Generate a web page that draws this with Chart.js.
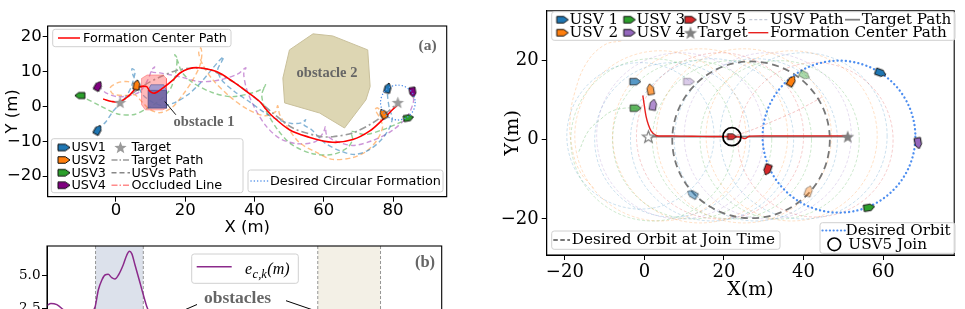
<!DOCTYPE html>
<html>
<head>
<meta charset="utf-8">
<title>USV formation trajectories</title>
<script src="https://cdn.jsdelivr.net/npm/chart.js@4.4.1/dist/chart.umd.min.js"></script>
<style>
  html, body { margin:0; padding:0; background:#fff; }
  #wrap { position:relative; width:965px; height:309px; overflow:hidden; background:#fff; }
  #wrap canvas { position:absolute; }
</style>
</head>
<body>
<div id="wrap">
  <canvas id="chartA" width="460" height="240" style="left:0px;top:0px;width:460px;height:240px"></canvas>
  <canvas id="chartB" width="460" height="120" style="left:0px;top:240px;width:460px;height:120px"></canvas>
  <canvas id="chartC" width="495" height="309" style="left:470px;top:0px;width:495px;height:309px"></canvas>
</div>
<script>
// ======================= DATA =======================
// ---- Panel (a) : trajectories around obstacles (X, Y in m) ----
const aXTicks = [0, 20, 40, 60, 80];
const aYTicks = [-20, -10, 0, 10, 20];
const aFormationCenterPath = [[-3.7,2.1],[-1.2,1.4],[1.2,1.4],[4.0,3.3],[6.0,5.3],[8.8,5.7],[9.8,4.3],[11.2,3.8],[13.6,5.3],[16.5,7.6],[18.4,9.5],[20.8,10.7],[23.7,11.1],[29.0,10.0],[33.8,7.1],[37.7,4.3],[41.5,1.4],[43.4,-0.9],[45.3,-2.9],[50.1,-6.7],[55.0,-8.6],[62.6,-10.3],[68.4,-9.5],[73.2,-7.1],[77.0,-3.8],[79.9,-0.9],[81.4,0.5]];
const aTargetPath = [[1.2,1.1],[8.4,6.2],[12.7,8.4],[17.5,10.3],[22.3,11.0],[27.1,10.5],[33.8,7.1],[39.6,2.9],[45.3,-1.9],[51.1,-6.2],[58.8,-8.6],[62.6,-8.7],[68.4,-7.6],[74.2,-4.7],[78.0,-1.9],[81.4,1.0]];
const aUsv1Path = [[-5.2,-6.7],[-2.9,-4.4],[-0.9,-1.5],[1.2,0.8],[2.9,2.8],[4.3,5.3],[5.2,8.2],[5.5,10.2],[4.6,10.8],[4.9,9.1],[6.1,6.5],[7.8,3.3],[10.4,1.3],[13.5,0.2],[17.0,1.1],[20.7,3.3],[24.2,6.5],[27.1,9.9],[30.0,13.3],[31.1,14.2],[30.5,12.8],[29.4,10.5],[30.5,7.6],[34.3,4.2],[38.6,1.3],[42.9,-1.8],[46.7,-3.8],[50.7,-4.9],[53.6,-4.7],[54.8,-3.8],[54.2,-5.2],[56.5,-6.7],[60.2,-10.4],[64.6,-12.7],[68.9,-13.8],[73.2,-12.4],[76.7,-9.5],[79.0,-6.1],[79.8,-3.2],[79.0,-0.9],[78.4,3.3],[78.5,5.3]];
const aUsv2Path = [[6.0,6.2],[3.5,7.1],[0.6,6.8],[-1.7,5.3],[-0.9,3.6],[2.3,3.1],[5.5,3.3],[7.5,1.3],[9.8,-0.9],[12.7,-1.8],[16.1,-0.4],[19.3,3.3],[22.2,7.6],[24.2,11.6],[24.8,14.8],[24.5,16.8],[23.9,15.3],[25.1,11.9],[28.0,7.6],[32.9,2.8],[37.8,-0.7],[43.0,-2.7],[46.1,-1.5],[46.7,0.2],[47.3,-2.4],[49.6,-6.1],[53.0,-10.4],[57.9,-13.2],[62.5,-15.2],[68.3,-14.7],[72.3,-12.9],[75.5,-9.5],[77.0,-5.8],[76.1,-3.2],[74.9,-0.9],[75.5,-0.4],[77.2,-2.1]];
const aUsv3Path = [[-10.4,3.1],[-4.6,0.2],[0.3,-2.1],[4.9,-2.4],[8.4,-0.9],[11.8,1.1],[15.6,4.8],[17.3,9.9],[17.6,13.9],[17.0,14.8],[17.9,12.8],[19.0,9.9],[22.2,6.8],[28.0,3.9],[33.7,2.8],[39.5,3.9],[42.7,5.3],[43.2,6.2],[42.1,3.3],[43.2,-0.9],[46.7,-6.7],[50.7,-10.9],[56.5,-13.5],[62.5,-13.8],[66.9,-11.8],[68.3,-9.5],[68.0,-7.2],[71.8,-8.1],[77.0,-6.7],[81.8,-4.7],[84.5,-3.3]];
const aUsv4Path = [[-5.1,5.9],[-2.9,3.9],[0.3,2.8],[4.0,3.1],[6.9,4.2],[9.2,7.6],[10.4,10.5],[11.2,11.3],[10.4,9.9],[12.7,9.6],[18.4,8.5],[24.2,7.1],[30.0,7.6],[35.2,9.3],[37.5,11.1],[36.9,9.3],[37.8,4.8],[40.3,-0.9],[43.5,-5.8],[47.3,-9.2],[52.4,-10.7],[57.6,-10.1],[59.9,-7.5],[60.5,-5.8],[60.8,-8.1],[63.1,-9.8],[68.3,-11.2],[74.1,-9.8],[79.8,-6.9],[84.1,-2.9],[85.9,1.3],[85.7,4.0]];
const aUsvStart = [[-5.2,-6.7],[6.0,6.2],[-10.4,3.1],[-5.1,5.9]];     // USV1..USV4
const aUsvEnd   = [[78.5,5.3],[77.2,-2.1],[84.5,-3.3],[85.7,4.0]];
const aUsvStartHeading = [60, 80, 180, 60];                           // degrees
const aUsvEndHeading   = [75, 120, 10, -80];
const aTargetMarks = [[1.2,1.1],[81.4,1.1]];
const aFormationCircle = [81.4, 1.1, 5];                              // centre x, centre y, radius
const aObstacle2 = [[50.1,16.2],[56.9,20.8],[62.6,20.2],[72.7,16.2],[73.4,5.7],[72.2,1.9],[66.0,-6.2],[58.8,-1.9],[48.7,1.0],[48.2,8.1]];
const aObstacle1Occluded = [[7.4,8.0],[9.0,9.0],[13.6,9.0],[14.6,8.0],[14.6,-0.5],[13.5,-1.0],[8.5,-1.0],[7.4,0.5]];
const aObstacle1Front = [[9.3,4.6],[14.6,4.6],[14.6,-0.5],[9.3,-0.5]];
const aObstacle1Top = [[9.3,4.6],[14.6,4.6],[13.8,6.2],[10.1,6.2]];

// ---- Panel (b) : formation error e_{c,k} ----
const bYTicks = [0, 2.5, 5.0];
const bTime  = [0, 1, 2.5, 4, 5, 7, 9.6, 11.1, 12.2, 13.0, 13.9, 14.7, 15.5, 16.4, 17.2, 18.1, 19.3, 20.2, 20.9, 21.5, 22.3, 23.6, 24.4, 25.3, 26.6, 30, 35, 40, 50, 60, 68, 75, 82, 90, 100];
const bError = [2.7, 2.85, 2.75, 2.4, 2.1, 1.6, 1.7, 2.1, 2.6, 3.86, 4.62, 5.0, 5.05, 4.8, 4.7, 5.0, 5.76, 6.5, 6.8, 6.6, 5.76, 4.37, 3.5, 2.6, 1.8, 1.2, 0.9, 0.8, 0.7, 0.9, 1.4, 1.8, 1.3, 0.9, 0.8];
const bObstacleSpans = [[12.3, 24.4], [68.6, 84.5]];

// ---- Right panel : USV5 joining the circular formation ----
const cXTicks = [-20, 0, 20, 40, 60];
const cYTicks = [-20, 0, 20];
const cFormationCenterPath = [[-0.4,11.2],[0.0,8.5],[0.4,6.0],[1.0,3.8],[1.7,2.2],[2.9,1.1],[5.0,0.95],[7.1,1.0],[12.0,0.9],[17.0,0.85],[22.0,0.8],[24.0,0.7],[25.3,0.3],[26.3,0.9],[30.0,1.0],[40.0,1.0],[51.1,1.0]];
const cTargetPath = [[1.0,0.8],[51.1,0.8]];
const cTargetStart = [1.0, 0.8];
const cTargetEnd = [51.1, 0.8];
const cJoinPoint = [22.0, 0.8];
const cJoinOrbit = [26.8, 0.0, 19.8];      // centre x, centre y, radius
const cDesiredOrbit = [48.9, 0.8, 19.2];
const cUsvOrbitCircles = [[-1,1,18.5],[2,0,20.5],[4,1,21.5],[7,0,19.5],[9,1,21],[12,0,20],[14,1,22],[17,0,20.5],[19,1,21],[22,0,20],[25,1,22],[28,0,20.5],[31,1,21],[34,0,20],[37,1,21.5],[40,1,21],[43,0,19.5]];
const cUsvOrbitOwner = [1,3,2,1,4,3,2,1,5,3,2,1,4,3,2,1,5];
const cUsv5Path = [[22.0,0.8],[27,2.5],[33,5.0],[38,7.2],[42,9.3],[45,11.0]];
const cApproachArc = [[-5.8,25],[-10,24],[-14.5,19.5],[-17.5,12],[-18.7,5],[-18.2,-2],[-16.2,-8],[-12.5,-12.5]];
const cApproachGreen = [[-16.5,-3],[-14.1,2.2],[-11,5.2],[-8.3,7.2],[-5,8.0],[-2.2,8.0]];
const cUsvMarkers = [[-2.3,14.7],[1.5,12.8],[-2.2,8.0],[2.2,8.9],[11.2,14.7],[37.0,14.9],[40.3,16.3],[59.4,16.9],[68.8,-0.9],[30.9,-7.6],[41.3,-12.9],[12.0,-13.7],[56.5,-17.1],[22.0,0.8]];
const cUsvHeadings = [0,100,0,80,0,60,-30,-20,-80,-110,70,150,10,0];
const cUsvOwner = [1,2,3,4,4,2,3,1,4,5,2,1,3,5];

// ======================= STYLE =======================
const palette = {1:'#1f77b4', 2:'#ff7f0e', 3:'#2ca02c', 4:'#9467bd', 5:'#d62728'};
const cUsvAlpha = [0.75,0.75,0.75,0.75,0.35,1,0.4,1,1,1,0.4,0.5,1,0.9];
const aUsvColors = ['#1f77b4','#ff7f0e','#2ca02c','#800080'];
const aPathColors = ['rgba(31,119,180,0.55)','rgba(255,127,14,0.5)','rgba(44,160,44,0.5)','rgba(170,80,190,0.6)'];
const SANS = '"DejaVu Sans", sans-serif';
const SERIF = '"DejaVu Serif", serif';
const TIMES = '"Liberation Serif", serif';

// font size that makes a sample string span a given width
function fitSize(sample, family, targetWidth) {
  const g = document.createElement('canvas').getContext('2d');
  g.font = '100px ' + family;
  return 100 * targetWidth / g.measureText(sample).width;
}
const A_LEG_SIZE = fitSize('Formation Center Path', SANS, 144);
const C_LEG_SIZE = fitSize('Formation Center Path', SERIF, 176.7);

function rgba(hex, a) {
  const n = parseInt(hex.slice(1), 16);
  return 'rgba(' + ((n >> 16) & 255) + ',' + ((n >> 8) & 255) + ',' + (n & 255) + ',' + a + ')';
}
function boatImg(color, alpha, L, W) {
  const s = Math.ceil(Math.max(L, W)) + 4;
  const c = document.createElement('canvas');
  c.width = s; c.height = s;
  const g = c.getContext('2d');
  g.translate(s / 2, s / 2);
  g.globalAlpha = alpha;
  g.beginPath();
  g.moveTo(-L / 2, -W / 2); g.lineTo(L * 0.12, -W / 2); g.lineTo(L / 2, 0);
  g.lineTo(L * 0.12, W / 2); g.lineTo(-L / 2, W / 2); g.closePath();
  g.fillStyle = color; g.fill();
  g.lineWidth = 1; g.strokeStyle = '#111'; g.stroke();
  return c;
}
function starImg(fill, edge, R, lw) {
  const s = Math.ceil(2 * R) + 4;
  const c = document.createElement('canvas');
  c.width = s; c.height = s;
  const g = c.getContext('2d');
  g.translate(s / 2, s / 2 + R * 0.08);
  g.beginPath();
  for (let i = 0; i < 10; i++) {
    const r = (i % 2) ? R * 0.42 : R;
    const a = -Math.PI / 2 + i * Math.PI / 5;
    g.lineTo(r * Math.cos(a), r * Math.sin(a));
  }
  g.closePath();
  g.fillStyle = fill; g.fill();
  if (edge) { g.strokeStyle = edge; g.lineWidth = lw; g.stroke(); }
  return c;
}
const toXY = arr => arr.map(p => ({x: p[0], y: p[1]}));
const closedXY = arr => toXY(arr.concat([arr[0]]));
const fmtTick = v => (v < 0 ? '\u2212' + Math.abs(v) : String(v));

function axis(o) {
  return {
    type: 'linear', min: o.min, max: o.max, display: o.display !== false,
    afterBuildTicks: s => { s.ticks = (o.ticks || []).map(v => ({value: v})); },
    afterFit: s => {
      if (o.w != null) s.width = o.w;
      if (o.h != null) s.height = o.h;
      s.paddingTop = 0; s.paddingBottom = 0; s.paddingLeft = 0; s.paddingRight = 0;
    },
    ticks: { font: o.font, color: '#000', padding: o.pad, callback: o.fmt || fmtTick, autoSkip: false, maxRotation: 0, minRotation: 0 },
    grid: { drawOnChartArea: false, drawTicks: true, tickLength: 5, color: '#000', tickWidth: 1 },
    border: { display: true, color: '#000', width: 1 },
    title: o.title ? { display: true, text: o.title, font: o.titleFont, color: '#000', padding: o.titlePad } : { display: false }
  };
}
function lineDs(points, color, width, dash, order, extra) {
  return Object.assign({ data: toXY(points), showLine: true, borderColor: color, borderWidth: width, borderDash: dash || [], pointRadius: 0, tension: 0.3, fill: false, order: order }, extra || {});
}
function polyDs(points, fillColor, edgeColor, order) {
  return { data: closedXY(points), showLine: true, fill: 'shape', backgroundColor: fillColor, borderColor: edgeColor, borderWidth: 1, pointRadius: 0, tension: 0, order: order };
}
function clipArea(ctx, ca) { ctx.beginPath(); ctx.rect(ca.left, ca.top, ca.right - ca.left, ca.bottom - ca.top); ctx.clip(); }
function drawCircleData(ctx, xs, ys, c, st) {
  const cx = xs.getPixelForValue(c[0]), cy = ys.getPixelForValue(c[1]);
  const rx = Math.abs(xs.getPixelForValue(c[0] + c[2]) - cx), ry = Math.abs(ys.getPixelForValue(c[1] + c[2]) - cy);
  ctx.beginPath(); ctx.ellipse(cx, cy, rx, ry, 0, 0, Math.PI * 2);
  ctx.strokeStyle = st.color; ctx.lineWidth = st.width; ctx.setLineDash(st.dash || []); ctx.lineCap = st.cap || 'butt';
  ctx.stroke();
}
function drawFrame(chart) {
  const {ctx, chartArea: a} = chart;
  ctx.save(); ctx.strokeStyle = '#000'; ctx.lineWidth = 1.1; ctx.setLineDash([]);
  ctx.strokeRect(a.left, a.top, a.right - a.left, a.bottom - a.top); ctx.restore();
}
function legendFrame(ctx, x, y, w, h) {
  ctx.save(); ctx.beginPath();
  if (ctx.roundRect) ctx.roundRect(x, y, w, h, 2.5); else ctx.rect(x, y, w, h);
  ctx.fillStyle = 'rgba(255,255,255,0.82)'; ctx.fill();
  ctx.strokeStyle = '#d0d0d0'; ctx.lineWidth = 1; ctx.setLineDash([]); ctx.stroke(); ctx.restore();
}
function legendLine(ctx, x1, x2, y, color, width, dash, cap) {
  ctx.save(); ctx.beginPath(); ctx.moveTo(x1, y); ctx.lineTo(x2, y);
  ctx.strokeStyle = color; ctx.lineWidth = width; ctx.setLineDash(dash || []); ctx.lineCap = cap || 'butt';
  ctx.stroke(); ctx.restore();
}
function txt(ctx, s, x, y, font, color, align, baseline) {
  ctx.save(); ctx.font = font; ctx.fillStyle = color; ctx.textAlign = align || 'left';
  ctx.textBaseline = baseline || 'middle'; ctx.fillText(s, x, y); ctx.restore();
}
function drawImg(ctx, img, x, y) { ctx.drawImage(img, x - img.width / 2, y - img.height / 2); }

// ======================= PANEL (a) =======================
const aStartBoats = aUsvColors.map(c => boatImg(c, 1, 10, 6));
const aLegendBoats = aUsvColors.map(c => boatImg(c, 1, 12, 6.5));
const aStar = starImg('#9a9a9a', null, 6.5, 0);
const aStarLegend = starImg('#9a9a9a', null, 6.5, 0);
const F13 = A_LEG_SIZE.toFixed(2) + 'px ' + SANS;

const overlayA = {
  id: 'overlayA',
  afterDatasetsDraw(chart) {
    const {ctx, chartArea: ca, scales: {x, y}} = chart;
    ctx.save(); clipArea(ctx, ca);
    drawCircleData(ctx, x, y, aFormationCircle, {color: '#4f8fe8', width: 1.4, dash: [0.1, 3.2], cap: 'round'});
    ctx.restore();
  },
  afterDraw(chart) {
    const {ctx, scales: {x, y}} = chart;
    drawFrame(chart);
    txt(ctx, '(a)', 427.5, 45.5, 'bold 15.5px ' + TIMES, '#666', 'center');
    txt(ctx, 'obstacle 2', 327, 73.5, 'bold 14.5px ' + TIMES, '#666', 'center');
    txt(ctx, 'obstacle 1', 204, 122, 'bold 14.5px ' + TIMES, '#666', 'center');
    ctx.save(); ctx.beginPath();
    ctx.moveTo(x.getPixelForValue(17.3), y.getPixelForValue(-2.4));
    ctx.lineTo(x.getPixelForValue(14.1), y.getPixelForValue(1.4));
    ctx.strokeStyle = '#000'; ctx.lineWidth = 0.9; ctx.stroke(); ctx.restore();
    // legend: formation centre path
    legendFrame(ctx, 52.7, 29.3, 178.3, 17.4);
    legendLine(ctx, 58, 80, 38, '#ff0000', 1.5, []);
    txt(ctx, 'Formation Center Path', 83, 38.5, F13, '#000');
    // legend: USVs / target / paths
    legendFrame(ctx, 51.3, 138.7, 191.7, 54);
    const ry = [147.5, 160, 172.7, 185.2];
    ['USV1', 'USV2', 'USV3', 'USV4'].forEach((s, i) => { drawImg(ctx, aLegendBoats[i], 64, ry[i]); txt(ctx, s, 71.5, ry[i] + 0.5, F13, '#000'); });
    drawImg(ctx, aStarLegend, 120.5, ry[0]);
    txt(ctx, 'Target', 131.5, ry[0] + 0.5, F13, '#000');
    legendLine(ctx, 111.5, 130, ry[1], '#999', 1.5, [6, 2, 1.5, 2]);
    txt(ctx, 'Target Path', 131.5, ry[1] + 0.5, F13, '#000');
    legendLine(ctx, 111.5, 130, ry[2], '#888', 1.5, [5, 3]);
    txt(ctx, 'USVs Path', 131.5, ry[2] + 0.5, F13, '#000');
    legendLine(ctx, 111.5, 130, ry[3], 'rgba(255,100,100,0.75)', 1.5, [6, 2, 1.5, 2]);
    txt(ctx, 'Occluded Line', 131.5, ry[3] + 0.5, F13, '#000');
    // legend: desired formation
    legendFrame(ctx, 248, 170, 195, 22);
    legendLine(ctx, 251, 268, 181, '#4f8fe8', 1.5, [0.1, 3.2], 'round');
    txt(ctx, 'Desired Circular Formation', 270, 181.5, F13, '#000');
  }
};

const aDatasets = [
  { data: toXY(aUsvStart.concat(aUsvEnd)), pointStyle: aStartBoats.concat(aStartBoats), pointRotation: aUsvStartHeading.concat(aUsvEndHeading).map(h => -h), pointRadius: 5, order: 0 },
  { data: toXY(aTargetMarks), pointStyle: aStar, pointRadius: 6, order: 0 },
  lineDs(aFormationCenterPath, '#ff0000', 1.6, [], 1, {tension: 0.35}),
  polyDs(aObstacle1Top, 'rgba(150,150,210,0.85)', 'rgba(90,90,150,0.6)', 2),
  polyDs(aObstacle1Front, 'rgba(95,95,165,0.85)', 'rgba(70,70,130,0.7)', 2),
  polyDs(aObstacle1Occluded, 'rgba(255,90,90,0.42)', 'rgba(255,90,90,0.5)', 3),
  lineDs(aTargetPath, '#9a9a9a', 1.6, [7, 3, 2, 3], 4, {tension: 0.3}),
  lineDs(aUsv1Path, aPathColors[0], 1.4, [5, 3], 5),
  lineDs(aUsv2Path, aPathColors[1], 1.4, [5, 3], 5),
  lineDs(aUsv3Path, aPathColors[2], 1.4, [5, 3], 5),
  lineDs(aUsv4Path, aPathColors[3], 1.4, [5, 3], 5),
  polyDs(aObstacle2, '#ddd6b3', '#c9c09b', 6)
];

new Chart(document.getElementById('chartA'), {
  type: 'scatter',
  data: { datasets: aDatasets },
  options: {
    responsive: false, animation: false, devicePixelRatio: 1, events: [],
    layout: { padding: { left: 0, top: 26, right: 13.3, bottom: 0 } },
    plugins: { legend: { display: false }, tooltip: { enabled: false } },
    scales: {
      x: axis({ min: -19.7, max: 95.5, ticks: aXTicks, h: 43.3, pad: 1, font: { family: SANS, size: 16.5, lineHeight: 1 },
                title: 'X (m)', titleFont: { family: SANS, size: 16.5 }, titlePad: { top: 0, bottom: 2.6 } }),
      y: axis({ min: -25.9, max: 23.05, ticks: aYTicks, w: 47.7, pad: 1, font: { family: SANS, size: 16.5 },
                title: 'Y (m)', titleFont: { family: SANS, size: 16.5 }, titlePad: { top: 2.6, bottom: 0 } })
    }
  },
  plugins: [overlayA]
});

// ======================= PANEL (b) =======================
const bBandColors = ['#dce1eb', '#f3f0e6'];
const overlayB = {
  id: 'overlayB',
  beforeDatasetsDraw(chart) {
    const {ctx, chartArea: ca, scales: {x}} = chart;
    ctx.save(); clipArea(ctx, ca);
    bObstacleSpans.forEach((sp, i) => {
      const x1 = x.getPixelForValue(sp[0]), x2 = x.getPixelForValue(sp[1]);
      ctx.fillStyle = bBandColors[i]; ctx.fillRect(x1, ca.top, x2 - x1, ca.bottom - ca.top);
      ctx.strokeStyle = '#8a8a8a'; ctx.lineWidth = 0.9; ctx.setLineDash([3, 2]);
      [x1, x2].forEach(xx => { ctx.beginPath(); ctx.moveTo(xx, ca.top); ctx.lineTo(xx, ca.bottom); ctx.stroke(); });
    });
    ctx.restore();
  },
  afterDraw(chart) {
    const ctx = chart.ctx, oy = 240;
    drawFrame(chart);
    txt(ctx, '(b)', 425, 262.7 - oy, 'bold 16.5px ' + TIMES, '#666', 'center');
    legendFrame(ctx, 191.7, 254 - oy, 106.6, 29.3);
    legendLine(ctx, 196.7, 231.7, 266.7 - oy, '#8b2a8b', 1.5, []);
    ctx.save(); ctx.fillStyle = '#000'; ctx.textBaseline = 'alphabetic'; ctx.textAlign = 'left';
    let xx = 245;
    ctx.font = 'italic 16px ' + TIMES; ctx.fillText('e', xx, 273.5 - oy); xx += ctx.measureText('e').width + 0.5;
    ctx.font = 'italic 12.5px ' + TIMES; ctx.fillText('c,k', xx, 277.5 - oy); xx += ctx.measureText('c,k').width + 0.5;
    ctx.font = 'italic 16px ' + TIMES; ctx.fillText('(m)', xx, 273.5 - oy);
    ctx.restore();
    txt(ctx, 'obstacles', 237.5, 298.3 - oy, 'bold 17.5px ' + TIMES, '#666', 'center');
    ctx.save(); ctx.strokeStyle = '#000'; ctx.lineWidth = 1;
    ctx.beginPath(); ctx.moveTo(197, 304.5 - oy); ctx.lineTo(166, 318 - oy); ctx.stroke();
    ctx.beginPath(); ctx.moveTo(286, 300.7 - oy); ctx.lineTo(316, 311 - oy); ctx.stroke();
    ctx.restore();
  }
};

new Chart(document.getElementById('chartB'), {
  type: 'scatter',
  data: { datasets: [
    { data: bTime.map((t, i) => ({x: t, y: bError[i]})), showLine: true, borderColor: '#8b2a8b', borderWidth: 1.5, pointRadius: 0, cubicInterpolationMode: 'monotone', fill: false }
  ] },
  options: {
    responsive: false, animation: false, devicePixelRatio: 1, events: [],
    layout: { padding: { left: 0, top: 6, right: 18.3, bottom: 19 } },
    plugins: { legend: { display: false }, tooltip: { enabled: false } },
    scales: {
      x: axis({ min: 0, max: 100, ticks: [], display: false }),
      y: axis({ min: 0, max: 7.197, ticks: bYTicks, w: 47, pad: 1.5, font: { family: SERIF, size: 13.5 }, fmt: v => v.toFixed(1) })
    }
  },
  plugins: [overlayB]
});

// ======================= RIGHT PANEL =======================
const cBoats = cUsvMarkers.map((p, i) => boatImg(palette[cUsvOwner[i]], cUsvAlpha[i], i === 13 ? 9 : 11, i === 13 ? 5.5 : 6.5));
const cLegendBoats = {1: boatImg(palette[1], 1, 11.5, 6.5), 2: boatImg(palette[2], 1, 11.5, 6.5), 3: boatImg(palette[3], 1, 11.5, 6.5), 4: boatImg(palette[4], 1, 11.5, 6.5), 5: boatImg(palette[5], 1, 11.5, 6.5)};
const cStarFilled = starImg('#808080', null, 6.8, 0);
const cStarHollow = starImg('#ffffff', '#808080', 6.3, 1.2);
const cStarLegend = starImg('#808080', null, 7, 0);
const F15 = C_LEG_SIZE.toFixed(2) + 'px ' + SERIF;

const overlayC = {
  id: 'overlayC',
  beforeDatasetsDraw(chart) {
    const {ctx, chartArea: ca, scales: {x, y}} = chart;
    ctx.save(); clipArea(ctx, ca);
    cUsvOrbitCircles.forEach((c, i) => drawCircleData(ctx, x, y, c, {color: rgba(palette[cUsvOrbitOwner[i]], 0.26), width: 0.9, dash: [3, 2]}));
    drawCircleData(ctx, x, y, cJoinOrbit, {color: '#777777', width: 1.8, dash: [7, 4.5]});
    drawCircleData(ctx, x, y, cDesiredOrbit, {color: '#4d8ef0', width: 2.3, dash: [0.1, 4.1], cap: 'round'});
    ctx.restore();
  },
  afterDraw(chart) {
    const ctx = chart.ctx, ox = 470;
    drawFrame(chart);
    // top legend
    legendFrame(ctx, 551.7 - ox, 11.7, 403.3, 28.6);
    const r1 = 19.7, r2 = 32.7;
    drawImg(ctx, cLegendBoats[1], 562.5 - ox, r1); txt(ctx, 'USV 1', 569.5 - ox, r1 + 0.5, F15, '#000');
    drawImg(ctx, cLegendBoats[3], 629.5 - ox, r1); txt(ctx, 'USV 3', 636.5 - ox, r1 + 0.5, F15, '#000');
    drawImg(ctx, cLegendBoats[5], 690.5 - ox, r1); txt(ctx, 'USV 5', 697.5 - ox, r1 + 0.5, F15, '#000');
    legendLine(ctx, 749.3 - ox, 768.3 - ox, r1, '#c5cbd8', 1.2, [3, 2]);
    txt(ctx, 'USV Path', 770 - ox, r1 + 0.5, F15, '#000');
    legendLine(ctx, 845 - ox, 860 - ox, r1, '#808080', 1.8, []);
    txt(ctx, 'Target Path', 861.7 - ox, r1 + 0.5, F15, '#000');
    drawImg(ctx, cLegendBoats[2], 562.5 - ox, r2); txt(ctx, 'USV 2', 569.5 - ox, r2 + 0.5, F15, '#000');
    drawImg(ctx, cLegendBoats[4], 629.5 - ox, r2); txt(ctx, 'USV 4', 636.5 - ox, r2 + 0.5, F15, '#000');
    drawImg(ctx, cStarLegend, 690.5 - ox, r2);     txt(ctx, 'Target', 697.5 - ox, r2 + 0.5, F15, '#000');
    legendLine(ctx, 748.3 - ox, 768.3 - ox, r2, '#e8211f', 1.4, []);
    txt(ctx, 'Formation Center Path', 770 - ox, r2 + 0.5, F15, '#000');
    // bottom-left legend
    legendFrame(ctx, 551.7 - ox, 231, 228.3, 18.3);
    legendLine(ctx, 553.3 - ox, 570 - ox, 240, '#777777', 1.8, [4.5, 2.5]);
    txt(ctx, 'Desired Orbit at Join Time', 571.7 - ox, 240.5, F15, '#000');
    // bottom-right legend
    legendFrame(ctx, 820 - ox, 222.7, 135, 30.6);
    legendLine(ctx, 822.5 - ox, 845 - ox, 230.5, '#4d8ef0', 2.2, [0.1, 3.6], 'round');
    txt(ctx, 'Desired Orbit', 845.5 - ox, 231, F15, '#000');
    ctx.save(); ctx.beginPath(); ctx.arc(834.3 - ox, 244.3, 6.3, 0, Math.PI * 2); ctx.strokeStyle = '#000'; ctx.lineWidth = 1.6; ctx.stroke(); ctx.restore();
    txt(ctx, 'USV5 Join', 848.3 - ox, 244.8, F15, '#000');
  }
};

const cDatasets = [
  { data: toXY([cJoinPoint]), pointStyle: 'circle', pointRadius: 9, pointBorderWidth: 1.8, pointBorderColor: '#000', pointBackgroundColor: 'rgba(0,0,0,0)', order: 0 },
  { data: toXY(cUsvMarkers), pointStyle: cBoats, pointRotation: cUsvHeadings.map(h => -h), pointRadius: 5, order: 1 },
  { data: toXY([cTargetStart, cTargetEnd]), pointStyle: [cStarHollow, cStarFilled], pointRadius: 6, order: 1 },
  lineDs(cFormationCenterPath, '#e8211f', 1.4, [], 2, {tension: 0.25}),
  lineDs(cTargetPath, '#808080', 1.6, [], 3, {tension: 0}),
  lineDs(cUsv5Path, 'rgba(214,39,40,0.3)', 0.9, [3, 2], 4),
  lineDs(cApproachArc, 'rgba(255,127,14,0.28)', 0.9, [3, 2], 4, {tension: 0.4}),
  lineDs(cApproachGreen, 'rgba(44,160,44,0.3)', 0.9, [3, 2], 4, {tension: 0.4})
];

new Chart(document.getElementById('chartC'), {
  type: 'scatter',
  data: { datasets: cDatasets },
  options: {
    responsive: false, animation: false, devicePixelRatio: 1, events: [],
    layout: { padding: { left: 0, top: 6.7, right: 7.7, bottom: 0 } },
    plugins: { legend: { display: false }, tooltip: { enabled: false } },
    scales: {
      x: axis({ min: -24.56, max: 77.86, ticks: cXTicks, h: 54, pad: 3, font: { family: SERIF, size: 18, lineHeight: 1 },
                title: 'X(m)', titleFont: { family: SERIF, size: 19 }, titlePad: { top: 0, bottom: 7.6 } }),
      y: axis({ min: -29.1, max: 32.6, ticks: cYTicks, w: 76.7, pad: 3, font: { family: SERIF, size: 18 },
                title: 'Y(m)', titleFont: { family: SERIF, size: 19 }, titlePad: { top: 32, bottom: 0 } })
    }
  },
  plugins: [overlayC]
});
</script>
</body>
</html>
